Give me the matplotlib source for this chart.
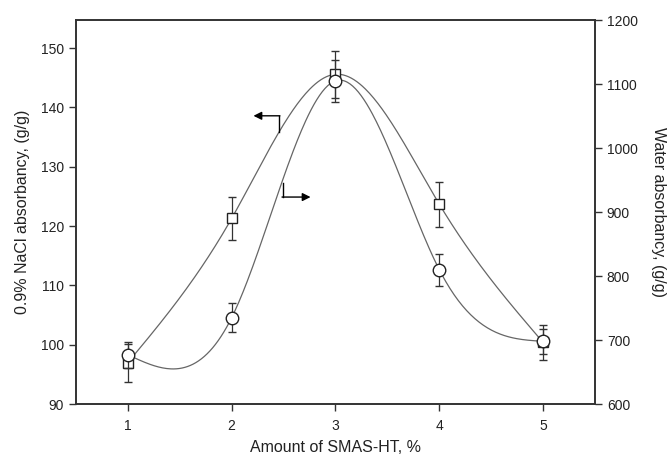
import numpy as np
import matplotlib
matplotlib.use("Agg")
import matplotlib.pyplot as plt

plt.rcParams['font.family'] = ['Liberation Sans', 'DejaVu Sans']

amount = [1, 2, 3, 4, 5]
nacl = [97.0, 121.3, 145.6, 123.7, 100.4]
nacl_err = [3.2, 3.6, 4.0, 3.8, 3.0]
water = [677, 735, 1105, 810, 698]
water_err = [20, 23, 33, 25, 20]


def natural_spline(x, y, n=300):
    x = np.asarray(x, float)
    y = np.asarray(y, float)
    m = len(x)
    h = np.diff(x)
    A = np.zeros((m, m))
    b = np.zeros(m)
    A[0, 0] = 1
    A[-1, -1] = 1
    for i in range(1, m - 1):
        A[i, i - 1] = h[i - 1]
        A[i, i] = 2 * (h[i - 1] + h[i])
        A[i, i + 1] = h[i]
        b[i] = 3 * ((y[i + 1] - y[i]) / h[i] - (y[i] - y[i - 1]) / h[i - 1])
    c = np.linalg.solve(A, b)
    xs = np.linspace(x[0], x[-1], n)
    ys = np.empty_like(xs)
    for k, xv in enumerate(xs):
        i = min(np.searchsorted(x, xv, side='right') - 1, m - 2)
        dx = xv - x[i]
        bi = (y[i + 1] - y[i]) / h[i] - h[i] * (2 * c[i] + c[i + 1]) / 3
        di = (c[i + 1] - c[i]) / (3 * h[i])
        ys[k] = y[i] + bi * dx + c[i] * dx ** 2 + di * dx ** 3
    return xs, ys


fig = plt.figure(figsize=(6.7, 4.55), dpi=100)
ax = fig.add_axes([0.1134, 0.112, 0.7746, 0.844])
ax2 = ax.twinx()

line_col = '#666666'
edge = '#222222'

xs, ys = natural_spline(amount, nacl)
ax.plot(xs, ys, color=line_col, lw=0.9, zorder=1)
ax.errorbar(amount, nacl, yerr=nacl_err, fmt='s', ms=7, mfc='white', mec=edge,
            mew=1.0, ecolor='#333333', elinewidth=0.9, capsize=3, capthick=0.9, zorder=3)

xs2, ys2 = natural_spline(amount, water)
ax2.plot(xs2, ys2, color=line_col, lw=0.9, zorder=1)
ax2.errorbar(amount, water, yerr=water_err, fmt='o', ms=9, mfc='white', mec=edge,
             mew=1.0, ecolor='#333333', elinewidth=0.9, capsize=3, capthick=0.9, zorder=3)

ax.set_xlim(0.5, 5.5)
ax.set_ylim(90, 154.75)
ax2.set_ylim(600, 1200)
ax.set_xticks(amount)
ax.set_yticks(np.arange(90, 151, 10))
ax2.set_yticks(np.arange(600, 1201, 100))

for a in (ax, ax2):
    for s in a.spines.values():
        s.set_linewidth(1.2)
        s.set_color('#333333')
    a.tick_params(direction='out', length=5, width=1.0, colors='#333333',
                  labelsize=10, labelcolor='#222222')
ax.tick_params(axis='x', pad=6)

ax.set_xlabel('Amount of SMAS-HT, %', fontsize=11.5, color='#222222', labelpad=5)
ax.set_ylabel('0.9% NaCl absorbancy, (g/g)', fontsize=11.5, color='#222222', labelpad=8)
ax2.set_ylabel('Water absorbancy, (g/g)', fontsize=11.5, color='#222222',
               rotation=270, labelpad=20)

# direction arrows
ax.plot([2.46, 2.46], [138.6, 135.9], color='black', lw=1.0, zorder=4)
ax.annotate('', xy=(2.21, 138.6), xytext=(2.465, 138.6),
            arrowprops=dict(arrowstyle='-|>', color='black', lw=1.0,
                            mutation_scale=12, shrinkA=0, shrinkB=0))
ax.plot([2.49, 2.49], [127.3, 124.9], color='black', lw=1.0, zorder=4)
ax.annotate('', xy=(2.76, 124.9), xytext=(2.485, 124.9),
            arrowprops=dict(arrowstyle='-|>', color='black', lw=1.0,
                            mutation_scale=12, shrinkA=0, shrinkB=0))

fig.savefig('out.png', dpi=100)
